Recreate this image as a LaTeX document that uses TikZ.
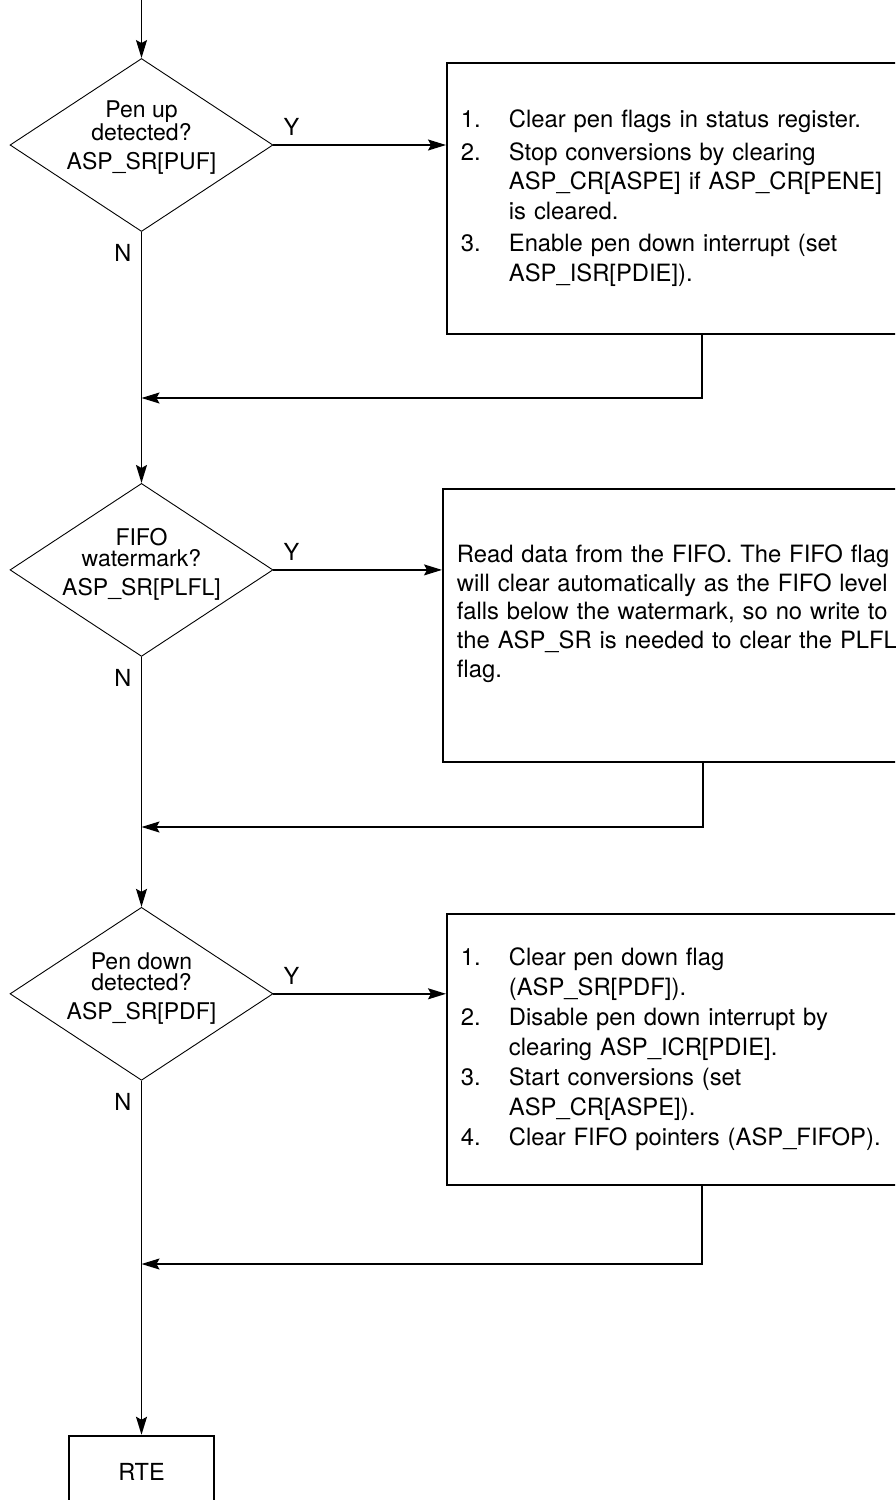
\documentclass[tikz,border=0pt]{standalone}
\usepackage{fontspec}
\setmainfont{TeX Gyre Heros}
\usetikzlibrary{shapes.geometric, positioning, arrows.meta}

\begin{document}
\begin{tikzpicture}[
    x=1pt, y=-1pt,
    every node/.style={font=\fontsize{23.5}{29.5}\selectfont},
    decision/.style={draw, diamond, line width=0.9pt, minimum width=263pt, minimum height=173pt, inner sep=0pt},
    qtext/.style={align=center, font=\fontsize{23}{21}\selectfont},
    action/.style={draw, line width=1.8pt, anchor=north west, text width=480pt, inner xsep=14pt, inner ysep=0pt, align=left},
    endbox/.style={draw, line width=1.8pt, minimum width=145pt, minimum height=72pt},
    yn/.style={inner sep=0pt},
    flow/.style={line width=1.4pt, -{Stealth[length=18pt, width=11pt, inset=3pt]}},
    link/.style={line width=1.4pt}
]
\useasboundingbox (0,0) rectangle (895,1500);
\clip (0,0) rectangle (895,1500);

% decisions down the left side
\node[decision] (q1) at (141.5,145) {};
\node[decision, below=251pt of q1] (q2) {};
\node[decision, below=250pt of q2] (q3) {};
\node[endbox, below=354pt of q3] (rte) {RTE};

\node[qtext] (q1t) at ([yshift=7pt]q1.center) {Pen up\\detected?\\[8pt]ASP\_SR[PUF]};
\node[qtext] (q2t) at ([yshift=6pt]q2.center) {FIFO\\watermark?\\[8pt]ASP\_SR[PLFL]};
\node[qtext] (q3t) at ([yshift=5pt]q3.center) {Pen down\\detected?\\[8pt]ASP\_SR[PDF]};

% actions
\node[action, minimum height=271pt, font=\fontsize{23.8}{29.5}\selectfont] (act1) at (446,62) {%
  \begin{tabular}{@{}p{48pt}@{}l@{}}
  1. & Clear pen flags in status register.\\[3pt]
  2. & Stop conversions by clearing\\
     & ASP\_CR[ASPE] if ASP\_CR[PENE]\\
     & is cleared.\\[3pt]
  3. & Enable pen down interrupt (set\\
     & ASP\_ISR[PDIE]).
  \end{tabular}};
\node[action, minimum height=273pt, font=\fontsize{23.8}{28.7}\selectfont] (act2) at (442,488) {%
  Read data from the FIFO. The FIFO flag\\
  will clear automatically as the FIFO level\\
  falls below the watermark, so no write to\\
  the ASP\_SR is needed to clear the PLFL\\
  flag.\\
  \mbox{}};
\node[action, minimum height=271pt, font=\fontsize{23.8}{30}\selectfont] (act3) at (446,913) {%
  \begin{tabular}{@{}p{48pt}@{}l@{}}
  1. & Clear pen down flag\\
     & (ASP\_SR[PDF]).\\
  2. & Disable pen down interrupt by\\
     & clearing ASP\_ICR[PDIE].\\
  3. & Start conversions (set\\
     & ASP\_CR[ASPE]).\\
  4. & Clear FIFO pointers (ASP\_FIFOP).
  \end{tabular}};

% Y / N labels
\node[yn, above right=9pt and 10pt of q1.east] (y1) {Y};
\node[yn, below left=12pt and 10pt of q1.south] (n1) {N};
\node[yn, above right=9pt and 10pt of q2.east] (y2) {Y};
\node[yn, below left=12pt and 10pt of q2.south] (n2) {N};
\node[yn, above right=9pt and 10pt of q3.east] (y3) {Y};
\node[yn, below left=12pt and 10pt of q3.south] (n3) {N};

% main flow
\coordinate (entry) at (141.5,0);
\draw[flow] (entry) -- (q1.north);
\draw[flow] (q1.south) -- (q2.north);
\draw[flow] (q2.south) -- (q3.north);
\draw[flow] (q3.south) -- (rte.north);

% yes branches
\draw[flow] (q1.east) -- (q1.east -| act1.west);
\draw[flow] (q2.east) -- (q2.east -| act2.west);
\draw[flow] (q3.east) -- (q3.east -| act3.west);

% back to the main line
\coordinate (r1) at (702,398);
\coordinate (r2) at (703,827);
\coordinate (r3) at (702,1264);
\draw[flow] (act1.south -| r1) -- (r1) -- (r1 -| q1.south);
\draw[flow] (act2.south -| r2) -- (r2) -- (r2 -| q2.south);
\draw[flow] (act3.south -| r3) -- (r3) -- (r3 -| q3.south);
\end{tikzpicture}
\end{document}
